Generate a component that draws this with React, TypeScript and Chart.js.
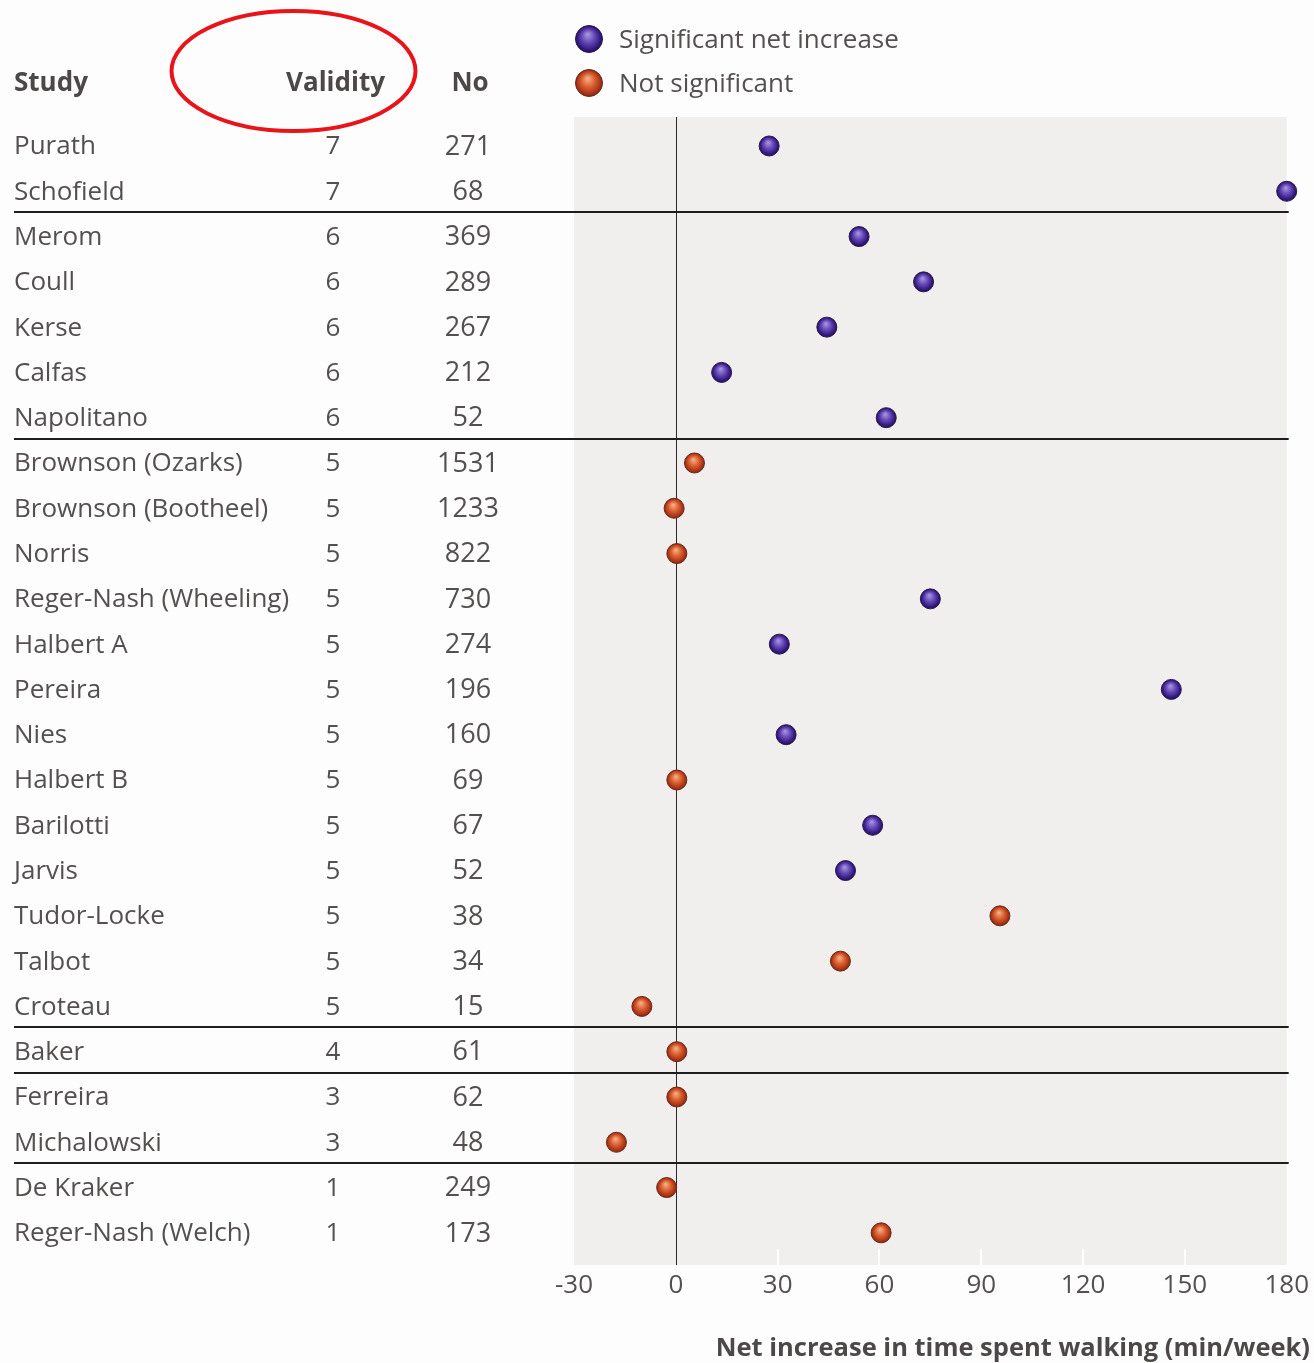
import { useEffect, useRef } from "react";
import { Chart, registerables } from "chart.js";

Chart.register(...registerables);

// Studies, listed top to bottom
const studies = [
  "Purath", "Schofield", "Merom", "Coull", "Kerse", "Calfas", "Napolitano",
  "Brownson (Ozarks)", "Brownson (Bootheel)", "Norris", "Reger-Nash (Wheeling)",
  "Halbert A", "Pereira", "Nies", "Halbert B", "Barilotti", "Jarvis",
  "Tudor-Locke", "Talbot", "Croteau", "Baker", "Ferreira", "Michalowski",
  "De Kraker", "Reger-Nash (Welch)",
];
const validity = [7, 7, 6, 6, 6, 6, 6, 5, 5, 5, 5, 5, 5, 5, 5, 5, 5, 5, 5, 5, 4, 3, 3, 1, 1];
const participants = [
  271, 68, 369, 289, 267, 212, 52, 1531, 1233, 822, 730, 274, 196, 160, 69, 67,
  52, 38, 34, 15, 61, 62, 48, 249, 173,
];
// Net increase in walking time, min/week
const netIncrease = [
  27.5, 180, 54, 73, 44.5, 13.5, 62, 5.5, -0.5, 0.3, 75, 30.5, 146, 32.5, 0.3,
  58, 50, 95.5, 48.5, -10, 0.3, 0.3, -17.5, -2.7, 60.5,
];
// 1 = significant net increase, 0 = not significant
const significant = [1, 1, 1, 1, 1, 1, 1, 0, 0, 0, 1, 1, 1, 1, 0, 1, 1, 0, 0, 0, 0, 0, 0, 0, 0];

const seriesLabels = ["Significant net increase", "Not significant"];
const xTicks = [-30, 0, 30, 60, 90, 120, 150, 180];
const axisTitle = "Net increase in time spent walking (min/week)";
const headers = { study: "Study", validity: "Validity", n: "No" };

const FONT = "'Open Sans', 'Noto Sans', sans-serif";
const TEXT = "#555050";
const PALETTE = [
  { stops: ["#a493e0", "#6446b4", "#341a82", "#1f0d55"], rim: "#2a1848" },
  { stops: ["#f5ac86", "#d9602f", "#ae3418", "#7a230e"], rim: "#6a2a18" },
];

function ballFill(ctx: CanvasRenderingContext2D, x: number, y: number, r: number, k: number) {
  const g = ctx.createRadialGradient(x - r * 0.1, y - r * 0.35, r * 0.05, x, y, r * 1.05);
  const s = PALETTE[k].stops;
  g.addColorStop(0, s[0]);
  g.addColorStop(0.45, s[1]);
  g.addColorStop(0.8, s[2]);
  g.addColorStop(1, s[3]);
  return g;
}

const tablePlugin = {
  id: "forestTable",
  beforeDraw(chart: any) {
    const { ctx, chartArea: a, scales } = chart;
    ctx.save();
    ctx.fillStyle = "#fdfdfd";
    ctx.fillRect(0, 0, chart.width, chart.height);
    ctx.fillStyle = "#f0efee";
    ctx.fillRect(a.left, a.top, a.right - a.left, a.bottom - a.top);

    // white tick stubs along the bottom of the panel
    ctx.strokeStyle = "#ffffff";
    ctx.lineWidth = 2;
    for (const t of xTicks) {
      if (t === xTicks[0] || t === 0 || t === xTicks[xTicks.length - 1]) continue;
      const px = Math.round(scales.x.getPixelForValue(t));
      ctx.beginPath();
      ctx.moveTo(px, a.bottom - 16);
      ctx.lineTo(px, a.bottom);
      ctx.stroke();
    }

    // zero reference line
    const x0 = Math.round(scales.x.getPixelForValue(0)) + 0.5;
    ctx.strokeStyle = "#2a2a2a";
    ctx.lineWidth = 1;
    ctx.beginPath();
    ctx.moveTo(x0, a.top);
    ctx.lineTo(x0, a.bottom);
    ctx.stroke();

    // rules between validity groups
    ctx.strokeStyle = "#1e1e1e";
    ctx.lineWidth = 2;
    for (let i = 0; i < validity.length - 1; i++) {
      if (validity[i] !== validity[i + 1]) {
        const py = Math.round(scales.y.getPixelForValue(i + 0.46));
        ctx.beginPath();
        ctx.moveTo(14, py);
        ctx.lineTo(a.right + 2, py);
        ctx.stroke();
      }
    }

    // table columns
    ctx.fillStyle = TEXT;
    ctx.textBaseline = "middle";
    studies.forEach((name, i) => {
      const py = scales.y.getPixelForValue(i) + 1;
      ctx.font = `26px ${FONT}`;
      ctx.textAlign = "left";
      ctx.fillText(name, 14, py);
      ctx.textAlign = "center";
      ctx.fillText(String(validity[i]), 333, py);
      ctx.font = `27px ${FONT}`;
      ctx.fillText(String(participants[i]), 468, py);
    });

    // headers
    ctx.font = `bold 26px ${FONT}`;
    ctx.fillStyle = "#4c4848";
    ctx.textAlign = "left";
    ctx.fillText(headers.study, 14, 84);
    ctx.textAlign = "right";
    ctx.fillText(headers.validity, 385, 84);
    ctx.textAlign = "center";
    ctx.fillText(headers.n, 470, 84);

    // highlight ring around the validity header
    ctx.strokeStyle = "#e8141a";
    ctx.lineWidth = 4;
    ctx.beginPath();
    ctx.ellipse(293.5, 71, 122, 60, 0, 0, Math.PI * 2);
    ctx.stroke();

    // legend
    seriesLabels.forEach((label, k) => {
      const ly = 39 + k * 44;
      ctx.beginPath();
      ctx.arc(589, ly, 13.5, 0, Math.PI * 2);
      ctx.fillStyle = ballFill(ctx, 589, ly, 13.5, k);
      ctx.fill();
      ctx.strokeStyle = PALETTE[k].rim;
      ctx.lineWidth = 1;
      ctx.stroke();
      ctx.fillStyle = TEXT;
      ctx.font = `26px ${FONT}`;
      ctx.textAlign = "left";
      ctx.fillText(label, 619, ly + 2);
    });

    // axis title
    ctx.font = `bold 25.5px ${FONT}`;
    ctx.fillStyle = "#4c4848";
    ctx.textAlign = "right";
    ctx.fillText(axisTitle, 1310, 1349);
    ctx.restore();
  },
};

export default function App() {
  const ref = useRef<HTMLCanvasElement | null>(null);

  useEffect(() => {
    if (!ref.current) return;
    const makeData = (k: number) =>
      studies
        .map((_, i) => ({ x: netIncrease[i], y: i }))
        .filter((_, i) => (k === 0 ? significant[i] === 1 : significant[i] === 0));

    const pointFill = (k: number) => (c: any) => {
      const chart = c.chart;
      if (!chart.chartArea || !c.raw) return PALETTE[k].stops[1];
      const px = chart.scales.x.getPixelForValue(c.raw.x);
      const py = chart.scales.y.getPixelForValue(c.raw.y);
      return ballFill(chart.ctx, px, py, 10, k);
    };

    const chart = new Chart(ref.current, {
      type: "scatter",
      data: {
        datasets: seriesLabels.map((label, k) => ({
          label,
          data: makeData(k),
          pointRadius: 10,
          pointHoverRadius: 10,
          pointBorderWidth: 1,
          pointBorderColor: PALETTE[k].rim,
          pointBackgroundColor: pointFill(k),
          clip: false as any,
        })),
      },
      options: {
        animation: false,
        responsive: false,
        devicePixelRatio: 1,
        layout: { padding: { left: 574, right: 26, top: 117, bottom: 0 } },
        plugins: { legend: { display: false }, tooltip: { enabled: false } },
        scales: {
          x: {
            type: "linear",
            min: -30,
            max: 180,
            afterFit: (s: any) => {
              s.height = 98;
            },
            afterBuildTicks: (s: any) => {
              s.ticks = xTicks.map((v) => ({ value: v }));
            },
            grid: { display: false, drawTicks: false },
            border: { display: false },
            ticks: {
              padding: 5,
              color: TEXT,
              font: { family: FONT, size: 26 },
              maxRotation: 0,
            },
          },
          y: {
            type: "linear",
            display: false,
            reverse: true,
            min: -0.64,
            max: 24.71,
          },
        },
      },
      plugins: [tablePlugin],
    });
    return () => chart.destroy();
  }, []);

  return (
    <div style={{ position: "absolute", left: 0, top: 0, width: 1314, height: 1363 }}>
      <canvas ref={ref} width={1314} height={1363} style={{ display: "block" }} />
    </div>
  );
}
